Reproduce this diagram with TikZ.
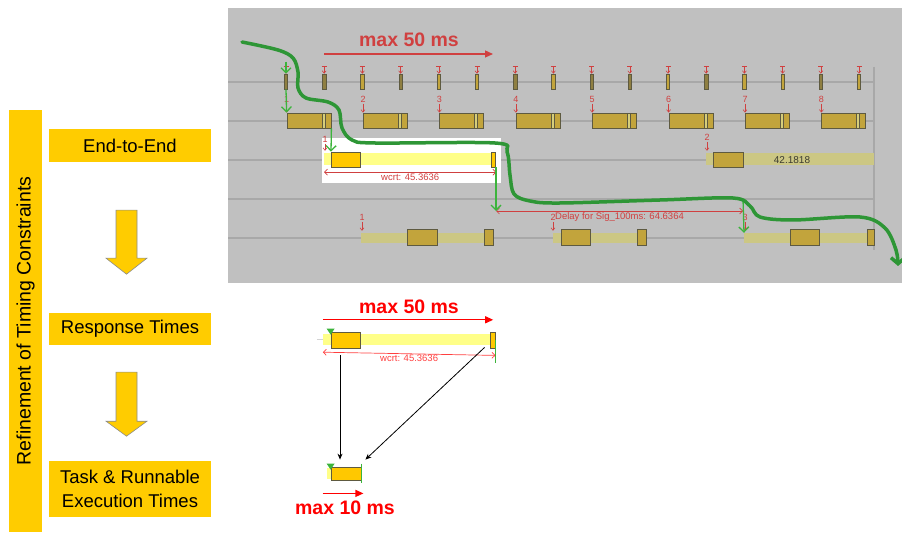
\documentclass[tikz,border=0pt]{standalone}
\usepackage{fontspec}
\setmainfont{Liberation Sans}
\setsansfont{Liberation Sans}
\usetikzlibrary{arrows.meta,positioning,calc}
\definecolor{stagefill}{HTML}{FFCC00}
\definecolor{arrowedge}{HTML}{8C8C8C}
\definecolor{panelfill}{HTML}{C0C0C0}
\definecolor{track}{HTML}{A8A8A8}
\definecolor{jobfill}{HTML}{C2A43C}
\definecolor{slotdark}{HTML}{8F7F42}
\definecolor{jobedge}{HTML}{5E5A40}
\definecolor{seamfill}{HTML}{D6CE7A}
\definecolor{olivefill}{HTML}{CCC784}
\definecolor{respfill}{HTML}{FFFF88}
\definecolor{execfill}{HTML}{FFC800}
\definecolor{panelred}{HTML}{D04040}
\definecolor{markred}{HTML}{FF0000}
\definecolor{tracegreen}{HTML}{3CB43C}
\definecolor{flowgreen}{HTML}{2E9636}
\definecolor{valtext}{HTML}{3C3C30}
\tikzset{
  font=\sffamily,
  stage/.style={
    fill=stagefill,
    minimum width=162pt,
    minimum height=33pt,
    inner sep=0pt,
    align=center,
    font=\sffamily\fontsize{18.5}{24}\selectfont
  },
  refine/.style={
    fill=stagefill,
    minimum width=422pt,
    minimum height=33pt,
    inner sep=0pt,
    rotate=90,
    font=\sffamily\fontsize{19.5}{22}\selectfont
  },
  blockarrow/.style={
    fill=stagefill,
    draw=arrowedge,
    line width=0.6pt
  },
  panel/.style={fill=panelfill, inner sep=0pt},
  hilite/.style={fill=white, inner sep=0pt},
  trackline/.style={draw=track, line width=1.3pt},
  slot/.style={
    minimum width=3.5pt,
    minimum height=15pt,
    inner sep=0pt,
    draw=jobedge,
    line width=0.6pt
  },
  job/.style={
    fill=jobfill,
    draw=jobedge,
    line width=0.8pt,
    minimum width=44pt,
    minimum height=15pt,
    inner sep=0pt,
    path picture={
      \fill[seamfill] ([xshift=-9pt]path picture bounding box.north east)
        rectangle ([xshift=-6pt]path picture bounding box.south east);
      \draw[jobedge, line width=0.8pt]
        ([xshift=-9pt]path picture bounding box.north east)
        -- ([xshift=-9pt]path picture bounding box.south east);
      \draw[jobedge, line width=0.8pt]
        ([xshift=-6pt]path picture bounding box.north east)
        -- ([xshift=-6pt]path picture bounding box.south east);
    }
  },
  jobpart/.style={
    fill=jobfill,
    draw=jobedge,
    line width=0.8pt,
    minimum height=16pt,
    inner sep=0pt
  },
  olivebar/.style={fill=olivefill, minimum height=10pt, inner sep=0pt},
  respbar/.style={fill=respfill, minimum height=12pt, inner sep=0pt},
  exec/.style={
    fill=execfill,
    draw=jobedge,
    line width=0.8pt,
    minimum height=15pt,
    inner sep=0pt
  },
  trigger/.style={
    draw=panelred,
    line width=0.6pt,
    -{Straight Barb[length=2.5pt,width=4pt]}
  },
  slottrigger/.style={
    trigger,
    {Bar[width=5pt]}-{Straight Barb[length=2.5pt,width=4pt]}
  },
  num/.style={
    text=panelred,
    font=\sffamily\fontsize{9}{10}\selectfont,
    inner sep=0.5pt
  },
  measure/.style={
    draw=panelred,
    line width=0.7pt,
    {Straight Barb[length=3pt,width=6pt]}-{Straight Barb[length=3pt,width=6pt]}
  },
  smalltext/.style={
    text=panelred,
    font=\sffamily\fontsize{9.5}{10}\selectfont,
    inner sep=0.5pt
  },
  valuetext/.style={
    text=valtext,
    font=\sffamily\fontsize{10}{11}\selectfont,
    inner sep=0pt
  },
  traceline/.style={
    draw=tracegreen,
    line width=1.3pt,
    -{Straight Barb[length=5pt,width=10pt]}
  },
  tracemark/.style={draw=tracegreen, line width=1.3pt},
  flowcurve/.style={
    draw=flowgreen,
    line width=3.5pt,
    line cap=round,
    -{Straight Barb[length=6pt,width=14pt]}
  },
  budget/.style={
    draw=markred,
    line width=1.2pt,
    -{Triangle[length=8pt,width=7pt]}
  },
  maxlabel/.style={
    text=markred,
    font=\sffamily\bfseries\fontsize{19.5}{22}\selectfont,
    inner sep=0pt
  },
  refarrow/.style={
    draw=black,
    line width=0.8pt,
    -{Stealth[length=6pt,width=5pt]}
  }
}

\begin{document}
\begin{tikzpicture}[x=1pt, y=-1pt]
\useasboundingbox (0,0) rectangle (902,534);

% ---------------------------------------------------------------------------
% Refinement levels
% ---------------------------------------------------------------------------
\node[refine] (refine) at (25.5,321) {Refinement of Timing Constraints};
\node[stage] (e2e) at (130,145.5) {End-to-End};
\node[stage, minimum height=32pt] (resp) at (130,329) {Response Times};
\node[stage, minimum height=56pt] (task) at (130,489)
  {Task \& Runnable\\Execution Times};

\draw[blockarrow] ($(e2e.south)+(-14,48)$) -- ++(21,0) -- ++(0,48) -- ++(10,0)
  -- ++(-20.5,16) -- ++(-20.5,-16) -- ++(10,0) -- cycle;
\draw[blockarrow] ($(resp.south)+(-14,27)$) -- ++(21,0) -- ++(0,49) -- ++(10,0)
  -- ++(-20.5,15) -- ++(-20.5,-15) -- ++(10,0) -- cycle;

% ---------------------------------------------------------------------------
% Trace panel
% ---------------------------------------------------------------------------
\node[panel, anchor=north west, minimum width=674pt, minimum height=275pt] (panel)
  at (228,8) {};

\draw[trackline] (228,82) -- (874,82);
\draw[trackline] (228,121) -- (874,121);
\draw[trackline] (228,160) -- (874,160);
\draw[trackline] (228,199) -- (874,199);
\draw[trackline] (228,238) -- (874,238);
\draw[trackline] (874,67) -- (874,250);

\node[maxlabel, text=panelred] (pmax) at (409,40) {max 50 ms};
\coordinate (pbudget1) at (324,54);
\coordinate (pbudget2) at (493,54);
\draw[budget, draw=panelred] (pbudget1) -- (pbudget2);

% periodic stimuli
\node[slot, fill=slotdark] (s1) at (286,81.5) {};
\node[slot, fill=slotdark] (s2) at (324.2,81.5) {};
\node[slot, fill=jobfill] (s3) at (362.4,81.5) {};
\node[slot, fill=slotdark] (s4) at (400.6,81.5) {};
\node[slot, fill=jobfill] (s5) at (438.8,81.5) {};
\node[slot, fill=jobfill] (s6) at (477,81.5) {};
\node[slot, fill=slotdark] (s7) at (515.2,81.5) {};
\node[slot, fill=jobfill] (s8) at (553.4,81.5) {};
\node[slot, fill=slotdark] (s9) at (591.6,81.5) {};
\node[slot, fill=slotdark] (s10) at (629.8,81.5) {};
\node[slot, fill=jobfill] (s11) at (668,81.5) {};
\node[slot, fill=slotdark] (s12) at (706.2,81.5) {};
\node[slot, fill=jobfill] (s13) at (744.4,81.5) {};
\node[slot, fill=jobfill] (s14) at (782.6,81.5) {};
\node[slot, fill=slotdark] (s15) at (820.8,81.5) {};
\node[slot, fill=jobfill] (s16) at (859,81.5) {};

\draw[slottrigger] ($(s1.north)+(0,-8)$) -- (s1.north);
\draw[slottrigger] ($(s2.north)+(0,-8)$) -- (s2.north);
\draw[slottrigger] ($(s3.north)+(0,-8)$) -- (s3.north);
\draw[slottrigger] ($(s4.north)+(0,-8)$) -- (s4.north);
\draw[slottrigger] ($(s5.north)+(0,-8)$) -- (s5.north);
\draw[slottrigger] ($(s6.north)+(0,-8)$) -- (s6.north);
\draw[slottrigger] ($(s7.north)+(0,-8)$) -- (s7.north);
\draw[slottrigger] ($(s8.north)+(0,-8)$) -- (s8.north);
\draw[slottrigger] ($(s9.north)+(0,-8)$) -- (s9.north);
\draw[slottrigger] ($(s10.north)+(0,-8)$) -- (s10.north);
\draw[slottrigger] ($(s11.north)+(0,-8)$) -- (s11.north);
\draw[slottrigger] ($(s12.north)+(0,-8)$) -- (s12.north);
\draw[slottrigger] ($(s13.north)+(0,-8)$) -- (s13.north);
\draw[slottrigger] ($(s14.north)+(0,-8)$) -- (s14.north);
\draw[slottrigger] ($(s15.north)+(0,-8)$) -- (s15.north);
\draw[slottrigger] ($(s16.north)+(0,-8)$) -- (s16.north);

% sampling task
\node[job] (j1) at (309,120.5) {};
\node[job] (j2) at (385.4,120.5) {};
\node[job] (j3) at (461.8,120.5) {};
\node[job] (j4) at (538.2,120.5) {};
\node[job] (j5) at (614.6,120.5) {};
\node[job] (j6) at (691,120.5) {};
\node[job] (j7) at (767.4,120.5) {};
\node[job] (j8) at (843.8,120.5) {};

\draw[trigger] ($(j1.north west)+(0,-9)$) node[num, above] (n1) {1} -- (j1.north west);
\draw[trigger] ($(j2.north west)+(0,-9)$) node[num, above] (n2) {2} -- (j2.north west);
\draw[trigger] ($(j3.north west)+(0,-9)$) node[num, above] (n3) {3} -- (j3.north west);
\draw[trigger] ($(j4.north west)+(0,-9)$) node[num, above] (n4) {4} -- (j4.north west);
\draw[trigger] ($(j5.north west)+(0,-9)$) node[num, above] (n5) {5} -- (j5.north west);
\draw[trigger] ($(j6.north west)+(0,-9)$) node[num, above] (n6) {6} -- (j6.north west);
\draw[trigger] ($(j7.north west)+(0,-9)$) node[num, above] (n7) {7} -- (j7.north west);
\draw[trigger] ($(j8.north west)+(0,-9)$) node[num, above] (n8) {8} -- (j8.north west);

% response time of the processing task
\node[hilite, anchor=north west, minimum width=179pt, minimum height=45pt] (hl)
  at (322,138) {};
\node[respbar, anchor=west, minimum width=172pt] (r0) at (324,159) {};
\node[exec, anchor=west, minimum width=29pt] (x0) at (331,159.5) {};
\node[exec, anchor=east, minimum width=4pt] (x0end) at (496,159.5) {};
\draw[trigger] ($(r0.north west)+(1,-9)$) node[num, above] (n0) {1} -- ++(0,7);
\draw[measure] ([yshift=-7pt]r0.south west) -- ([yshift=-7pt]r0.south east)
  node[smalltext, midway, below=0.5pt] (w0) {wcrt: 45.3636};

\node[olivebar, anchor=west, minimum width=168pt, minimum height=12pt] (r2)
  at (706,159) {};
\node[jobpart, anchor=west, minimum width=30pt, minimum height=15pt] (x2)
  at (713,159.5) {};
\node[valuetext] (v2) at (792,160) {42.1818};
\draw[trigger] ($(r2.north west)+(1,-11)$) node[num, above] (n2r) {2} -- ++(0,9);

% output task
\node[olivebar, anchor=west, minimum width=132pt] (q1) at (361,238) {};
\node[jobpart, minimum width=30pt] (y1) at (422,237) {};
\node[jobpart, minimum width=9pt] (y1end) at (488.5,237) {};
\node[olivebar, anchor=west, minimum width=93pt] (q2) at (553,238) {};
\node[jobpart, minimum width=29pt] (y2) at (575.5,237) {};
\node[jobpart, minimum width=9pt] (y2end) at (641.5,237) {};
\node[olivebar, anchor=west, minimum width=130pt] (q3) at (744,238) {};
\node[jobpart, minimum width=29pt] (y3) at (804.5,237) {};
\node[jobpart, minimum width=7pt] (y3end) at (870.5,237) {};

\draw[trigger] ($(q1.north west)+(1,-11)$) node[num, above] (m1) {1} -- ++(0,9);
\draw[trigger] ($(q2.north west)+(0,-11)$) node[num, above] (m2) {2} -- ++(0,9);
\draw[trigger] ($(q3.north west)+(1,-11)$) node[num, above] (m3) {3} -- ++(0,9);

\coordinate (dstart) at (496,211);
\coordinate (dend) at (743,211);
\draw[measure] (dstart) -- (dend)
  node[smalltext, midway, below=1pt] (dl) {Delay for Sig\_100ms: 64.6364};

% event chain
\draw[traceline] ($(s1.north)+(0,-12)$) -- (s1.north);
\draw[traceline] (s1.south) -- (j1.north west);
\draw[traceline] (j1.south east) -- (x0.north west);
\draw[traceline] (x0end.south east) -- (dstart);
\draw[traceline] ([yshift=12pt]dend) -- (q3.north west);

\draw[flowcurve] plot[smooth, tension=0.55] coordinates {
  (242,42) (278,50) (293,58) (298,72) (298,88) (306,98) (328,102) (339,110)
  (342,128) (352,140) (375,143) (495,143) (507,152) (510,175) (514,194)
  (530,201) (560,203) (660,200) (733,198) (750,206) (760,217) (793,220)
  (860,217) (885,228) (896,250) (898,266)};

% ---------------------------------------------------------------------------
% Budget split
% ---------------------------------------------------------------------------
\node[maxlabel] (max50) at (409,307) {max 50 ms};
\node[respbar, minimum width=170pt, minimum height=11pt] (r5) at (408,339.5) {};
\node[exec, minimum width=29pt, minimum height=16pt] (x5) at (345.5,340) {};
\node[exec, minimum width=5pt, minimum height=16pt] (x5end) at (492.5,340) {};
\draw[track!50!white, line width=1pt] ([xshift=-6pt]r5.west) -- (r5.west);
\draw[budget] ([yshift=14pt]r5.north west) -- ([yshift=14pt]r5.north east);
\draw[measure, draw=markred!75!white] ([yshift=-7pt]r5.south west)
  -- ([yshift=-7pt]x5end.south east)
  node[smalltext, text=markred!75!white, midway, below=0.5pt] (w5) {wcrt: 45.3636};
\draw[tracemark] (x5end.east) -- ++(0,23);
\fill[tracegreen] ($(x5.north west)+(-4,-3)$) -- ++(8,0) -- ++(-4,6) -- cycle;

\node[respbar, minimum width=35pt, minimum height=11pt] (r6) at (344.5,473.5) {};
\node[exec, minimum width=30pt, minimum height=13pt] (x6) at (346,473.5) {};
\draw[tracemark] ([yshift=3pt]x6.north east) -- ([yshift=-3pt]x6.south east);
\fill[tracegreen] ($(x6.north west)+(-4,-3)$) -- ++(8,0) -- ++(-4,6) -- cycle;

\draw[refarrow] ([xshift=-5.5pt,yshift=-7pt]x5.south) -- ([xshift=-6pt,yshift=7pt]x6.north);
\draw[refarrow] ([xshift=-5pt,yshift=1pt]x5end.south west)
  -- ([xshift=4pt,yshift=7pt]x6.north east);

\draw[budget] ([xshift=-8pt,yshift=-13pt]x6.south west) -- ([xshift=2pt,yshift=-13pt]x6.south east);
\node[maxlabel] (max10) at (345,508) {max 10 ms};

\end{tikzpicture}
\end{document}
